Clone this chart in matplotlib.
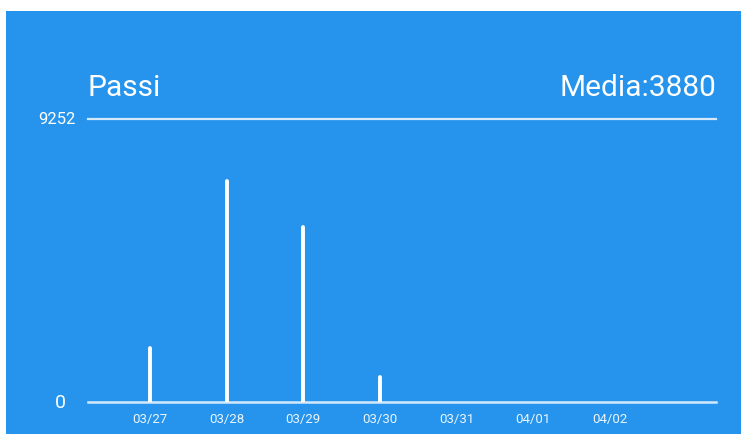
import numpy as np
import matplotlib
matplotlib.use('Agg')
import matplotlib.pyplot as plt
import matplotlib.transforms as mtransforms
from matplotlib.patches import Rectangle

plt.rcParams['font.family'] = ['Roboto', 'DejaVu Sans']

days = ['03/27', '03/28', '03/29', '03/30', '03/31', '04/01', '04/02']
steps = [1770, 7220, 5720, 810, 0, 0, 0]
y_max = 9252
mean_label = 'Media:3880'

blue = '#2694ec'
W, H = 741., 435.

fig = plt.figure(figsize=(W / 100., H / 100.), dpi=100)
fig.patch.set_facecolor('white')

#Blue card behind the chart.
fig.patches.append(Rectangle((6. / W, 0.), 1., 1. - 12. / H,
                             transform=fig.transFigure, facecolor=blue,
                             edgecolor='none', zorder=-10))

ax = fig.add_axes([88. / W, 32. / H, 628. / W, 283. / H])
ax.set_zorder(5)
ax.set_facecolor('none')
for s in ax.spines.values():
    s.set_visible(False)

x = np.arange(len(days))
ax.set_xlim(-0.81, 7.39)
ax.set_ylim(0., y_max)

#Top and bottom guide lines.
ax.axhline(y_max, color='white', alpha=0.8, lw=1.6, clip_on=False)
ax.axhline(0., color='white', alpha=0.8, lw=1.8, clip_on=False)

#Bars as thin white sticks.
ax.vlines(x, 0., steps, color='white', lw=2.8, capstyle='round', zorder=3)

ax.set_xticks(x)
ax.set_xticklabels(days, fontsize=9.5, color='white', alpha=0.9)
for lab in ax.get_xticklabels():
    lab.set_transform(lab.get_transform() +
                      mtransforms.ScaledTranslation(4. / 100., 0., fig.dpi_scale_trans))
ax.tick_params(axis='x', length=0, pad=7)
ax.set_yticks([])

ytrans = mtransforms.blended_transform_factory(fig.transFigure, ax.transData)
ax.text(76. / W, y_max, str(y_max), transform=ytrans, ha='right', va='center',
        color='white', fontsize=12)
ax.text(66. / W, 0., '0', transform=ytrans, ha='right', va='center',
        color='white', fontsize=14)

fig.text(88. / W, 1. - 96. / H, 'Passi', color='white', fontsize=21.5,
         ha='left', va='baseline', zorder=6)
fig.text(716. / W, 1. - 96. / H, mean_label, color='white', fontsize=21.5,
         ha='right', va='baseline', zorder=6)

fig.savefig('out.png', dpi=100, facecolor=fig.get_facecolor())
plt.close(fig)
